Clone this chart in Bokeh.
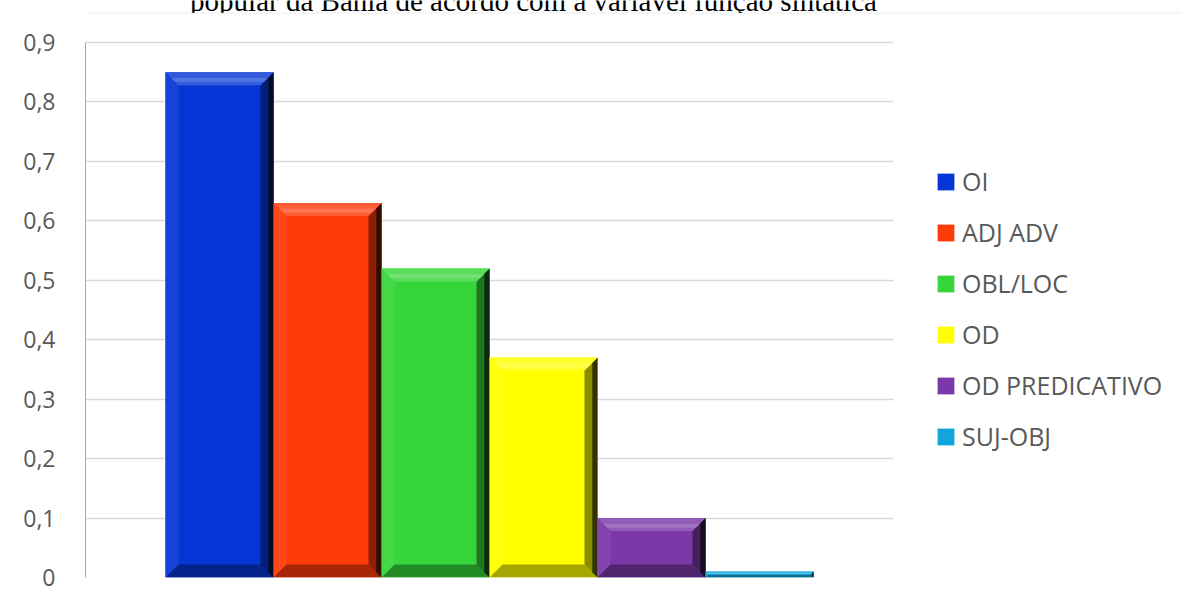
from bokeh.plotting import figure
from bokeh.models import (Range1d, FixedTicker, CustomJSTickFormatter, Legend, LegendItem,
                          Label, BoxAnnotation, ColumnDataSource)
from bokeh.embed import file_html
from bokeh.resources import INLINE

# ---- data ----
categories = ["OI", "ADJ ADV", "OBL/LOC", "OD", "OD PREDICATIVO", "SUJ-OBJ"]
values = [0.85, 0.63, 0.52, 0.37, 0.10, 0.01]
colors = ["#0637D6", "#FF3A0A", "#36D63A", "#FFFF00", "#7A38A8", "#10A6DB"]
y_ticks = [0, 0.1, 0.2, 0.3, 0.4, 0.5, 0.6, 0.7, 0.8, 0.9]
title_text = "popular da Bahia de acordo com a variável função sintática"

# ---- layout (pixels) ----
W, H = 1181, 599
ML, MB = 85, 22            # frame spans x 85..1181, y 0..577
fw, fh = W - ML, H - MB
plot_top_px = 42           # where 0.9 sits
plot_right_px = 893        # end of gridlines
bar_px = 108.0
gap_px = 80.0
ppx = bar_px
ppy = (fh - plot_top_px) / 0.9
X0 = -0.5 - gap_px / ppx
X1 = X0 + fw / ppx
Y0, Y1 = 0, fh / ppy

p = figure(width=W, height=H, x_range=Range1d(X0, X1), y_range=Range1d(Y0, Y1),
           output_backend="svg", toolbar_location=None,
           min_border_left=ML, min_border_right=0, min_border_top=0, min_border_bottom=MB)
p.outline_line_color = None
p.background_fill_color = "white"
p.border_fill_color = "white"

# title (cut at the top) and chart-area border box painted after it
title = Label(x=533 - ML, y=fh, x_units="screen", y_units="screen",
              text=title_text, text_align="center", text_baseline="alphabetic",
              text_font="Liberation Serif", text_font_size="29px", text_color="black",
              level="image")
p.add_layout(title)
box = BoxAnnotation(left=8 - ML, right=fw + 20, bottom=-200, top=fh - 12.5,
                    left_units="screen", right_units="screen", bottom_units="screen",
                    top_units="screen", fill_color="white", fill_alpha=1.0,
                    line_color="#d9d9d9", line_width=1.5, level="image")
p.add_layout(box)

# axes / grid
p.xaxis.visible = False
p.xgrid.visible = False
p.ygrid.grid_line_color = "#d9d9d9"
p.ygrid.grid_line_width = 1.5
p.ygrid.cross_bounds = (X0, X0 + (plot_right_px - ML) / ppx)
ax = p.yaxis[0]
ax.ticker = FixedTicker(ticks=y_ticks)
ax.bounds = (y_ticks[0], y_ticks[-1])
ax.formatter = CustomJSTickFormatter(code="return tick == 0 ? '0' : tick.toFixed(1).replace('.', ',');")
ax.axis_line_color = "#a6a6a6"
ax.axis_line_width = 1
ax.major_tick_line_color = None
ax.minor_tick_line_color = None
ax.major_label_text_font = "Open Sans"
ax.major_label_text_font_size = "23px"
ax.major_label_text_color = "#595959"
ax.major_label_standoff = 24

# bars
xs = list(range(len(categories)))
src = ColumnDataSource(dict(x=xs, top=values, color=colors, cat=categories))
r = p.vbar(x="x", top="top", width=1.0, bottom=0, source=src, fill_color="color",
           line_color=None)


def mix(c, t, a):
    c = c.lstrip("#"); t = t.lstrip("#")
    rgb = [int(c[i:i + 2], 16) for i in (0, 2, 4)]
    tg = [int(t[i:i + 2], 16) for i in (0, 2, 4)]
    return "#%02x%02x%02x" % tuple(int(round(v * (1 - a) + w * a)) for v, w in zip(rgb, tg))


bevel = 13
txs, tys, tcs = [], [], []
for xc, v, c in zip(xs, values, colors):
    L, R = xc - 0.5, xc + 0.5
    bpx = min(bevel, v * ppy / 2)
    bx, by = bpx / ppx, bpx / ppy
    txs.append([L, L, L + bx, L + bx]); tys.append([0, v, v - by, by]); tcs.append(mix(c, "#ffffff", 0.06))
    txs.append([L, R, R - bx, L + bx]); tys.append([0, 0, by, by]); tcs.append(mix(c, "#000000", 0.35))
    txs.append([R, R, R - bx, R - bx]); tys.append([0, v, v - by, by]); tcs.append(mix(c, "#000000", 0.45))
    txs.append([R, R, R - bx / 2.5, R - bx / 2.5]); tys.append([0, v, v - by / 2.5, by / 2.5]); tcs.append(mix(c, "#000000", 0.8))
    txs.append([L, R, R - bx, L + bx]); tys.append([v, v, v - by, v - by]); tcs.append(mix(c, "#ffffff", 0.18))
    txs.append([L + bx * 0.45, R - bx * 0.45, R - bx * 0.75, L + bx * 0.75])
    tys.append([v - by * 0.45, v - by * 0.45, v - by * 0.75, v - by * 0.75]); tcs.append(mix(c, "#ffffff", 0.3))
p.patches(xs=txs, ys=tys, fill_color=tcs, line_color=None)

# legend
items = [LegendItem(label=cat, renderers=[r], index=i) for i, cat in enumerate(categories)]
legend = Legend(items=items, location=(935 - ML, fh - 454), orientation="vertical",
                label_text_font="Open Sans", label_text_font_size="25px",
                label_text_color="#595959", glyph_width=21, glyph_height=21,
                label_standoff=6, spacing=15, padding=0, margin=0, label_height=36,
                border_line_color=None, background_fill_alpha=0)
p.add_layout(legend)

open("out.html", "w").write(file_html(p, INLINE))
